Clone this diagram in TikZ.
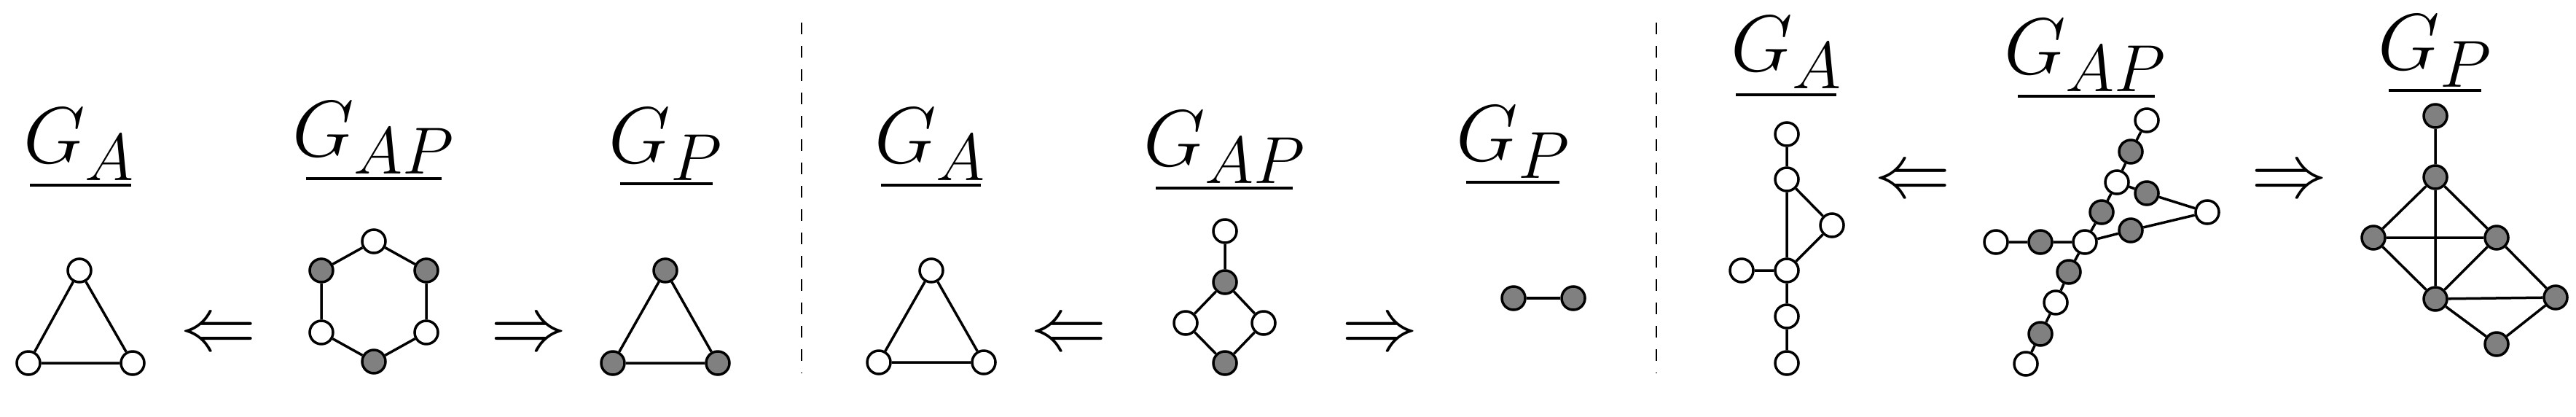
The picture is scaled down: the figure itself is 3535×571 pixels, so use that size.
\documentclass[tikz,border=0pt]{standalone}
\usepackage{graphicx}
\newcommand{\mylab}[1]{\scalebox{4.4}{\Huge$#1$}}
\newcommand{\myarr}[1]{\scalebox{4.2}{\Huge$#1$}}
\begin{document}
\begin{tikzpicture}[x=1pt,y=-1pt,
  wn/.style={circle,draw,line width=3.5pt,fill=white,minimum size=32pt,inner sep=0pt},
  ed/.style={line width=3.5pt},
  lab/.style={anchor=base,inner sep=0pt},
  ul/.style={line width=4.5pt},
  arr/.style={inner sep=0pt}]
\useasboundingbox (0,0) rectangle (3535,571);
\tikzset{gn/.style={wn,fill=black!50}}
% labels
\node[lab] (l1) at (109,223) {\mylab{G_A}};
\node[lab] (l2) at (513,214) {\mylab{G_{AP}}};
\node[lab] (l3) at (914,223) {\mylab{G_P}};
\node[lab] (l4) at (1277,223) {\mylab{G_A}};
\node[lab] (l5) at (1681,227) {\mylab{G_{AP}}};
\node[lab] (l6) at (2077,220) {\mylab{G_P}};
\node[lab] (l7) at (2452,97) {\mylab{G_A}};
\node[lab] (l8) at (2862,101) {\mylab{G_{AP}}};
\node[lab] (l9) at (3342,95) {\mylab{G_P}};
\draw[ul] (41,254)--(180,254) (420,245)--(606,245) (851,252)--(978,252);
\draw[ul] (1209,254)--(1346,254) (1586,258)--(1774,258) (2012,250)--(2140,250);
\draw[ul] (2382,130)--(2520,130) (2769,132)--(2957,132) (3278,124)--(3405,124);
% dashed separators
\draw[line width=2.5pt,dash pattern=on 16pt off 16pt] (1100,31)--(1100,512);
\draw[line width=2.5pt,dash pattern=on 16pt off 16pt] (2273,31)--(2273,512);
% arrows
\node[arr] (a1) at (300,461) {\myarr{\Leftarrow}};
\node[arr] (a2) at (726,461) {\myarr{\Rightarrow}};
\node[arr] (a3) at (1467,461) {\myarr{\Leftarrow}};
\node[arr] (a4) at (1894,461) {\myarr{\Rightarrow}};
\node[arr] (a5) at (2625,251) {\myarr{\Leftarrow}};
\node[arr] (a6) at (3142,251) {\myarr{\Rightarrow}};
% panel 1
\node[wn] (p1a) at (109,371) {};
\node[wn] (p1b) at (39,498) {};
\node[wn] (p1c) at (182,498) {};
\draw[ed] (p1a)--(p1b)--(p1c)--(p1a);
\node[wn] (h1) at (513,331) {};
\node[gn] (h2) at (585,371) {};
\node[wn] (h3) at (585,456) {};
\node[gn] (h4) at (513,496) {};
\node[wn] (h5) at (441,456) {};
\node[gn] (h6) at (441,371) {};
\draw[ed] (h1)--(h2)--(h3)--(h4)--(h5)--(h6)--(h1);
\node[gn] (q1a) at (913,371) {};
\node[gn] (q1b) at (841,498) {};
\node[gn] (q1c) at (985,498) {};
\draw[ed] (q1a)--(q1b)--(q1c)--(q1a);
% panel 2
\node[wn] (p2a) at (1278,371) {};
\node[wn] (p2b) at (1206,497) {};
\node[wn] (p2c) at (1350,497) {};
\draw[ed] (p2a)--(p2b)--(p2c)--(p2a);
\node[wn] (s1) at (1681,317) {};
\node[gn] (s2) at (1681,387) {};
\node[wn] (s3) at (1627,443) {};
\node[wn] (s4) at (1734,443) {};
\node[gn] (s5) at (1681,498) {};
\draw[ed] (s1)--(s2)--(s3)--(s5)--(s4)--(s2);
\node[gn] (e1) at (2077,409) {};
\node[gn] (e2) at (2159,409) {};
\draw[ed] (e1)--(e2);
% panel 3
\node[wn] (r1) at (2452,184) {};
\node[wn] (r2) at (2452,246) {};
\node[wn] (r3) at (2514,309) {};
\node[wn] (r4) at (2452,371) {};
\node[wn] (r5) at (2390,371) {};
\node[wn] (r6) at (2452,434) {};
\node[wn] (r7) at (2452,498) {};
\draw[ed] (r1)--(r2)--(r4)--(r6)--(r7) (r2)--(r3)--(r4) (r5)--(r4);
\node[wn] (ta) at (2946,165) {};
\node[gn] (tb) at (2924,208) {};
\node[wn] (tc) at (2905,250) {};
\node[gn] (td) at (2946,265) {};
\node[wn] (te) at (3029,291) {};
\node[gn] (tf) at (2884,291) {};
\node[gn] (tg) at (2924,316) {};
\node[wn] (th) at (2861,332) {};
\node[gn] (ti) at (2800,332) {};
\node[wn] (tj) at (2739,332) {};
\node[gn] (tk) at (2839,373) {};
\node[wn] (tl) at (2821,415) {};
\node[gn] (tm) at (2800,458) {};
\node[wn] (tn) at (2780,499) {};
\draw[ed] (ta)--(tb)--(tc)--(td)--(te)--(tg)--(th) (tc)--(tf)--(th)--(ti)--(tj) (th)--(tk)--(tl)--(tm)--(tn);
\node[gn] (ut) at (3342,159) {};
\node[gn] (uu) at (3342,243) {};
\node[gn] (uL) at (3257,326) {};
\node[gn] (uR) at (3426,326) {};
\node[gn] (uB) at (3342,410) {};
\node[gn] (uF) at (3507,408) {};
\node[gn] (uD) at (3426,472) {};
\draw[ed] (ut)--(uu)--(uL)--(uR)--(uu)--(uB) (uL)--(uB)--(uR)--(uF)--(uB)--(uD)--(uF);
\end{tikzpicture}
\end{document}
